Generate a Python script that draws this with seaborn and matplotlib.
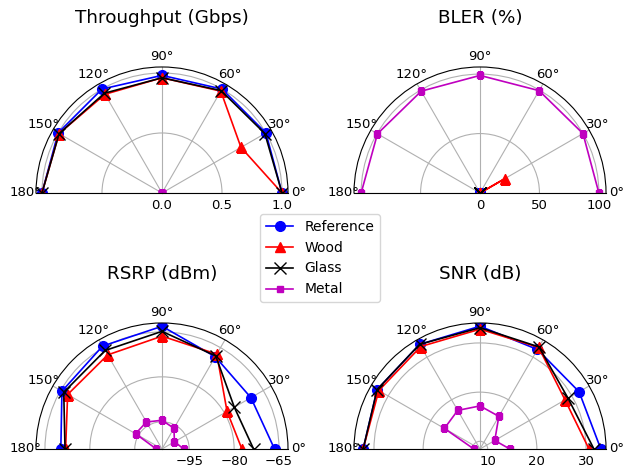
import numpy as np
import pandas as pd
import matplotlib
matplotlib.use('Agg')
import matplotlib.pyplot as plt
import seaborn as sns

# ── Data ──────────────────────────────────────────────────────────────────────
angles = [0, 30, 60, 90, 120, 150, 180]
materials = ['Reference', 'Wood', 'Glass', 'Metal']

thr_ref   = [1.00, 1.00, 1.00, 0.98, 1.00, 1.00, 1.00]
thr_wood  = [1.00, 0.76, 0.98, 0.96, 0.95, 0.99, 1.00]
thr_glass = [1.00, 0.99, 0.985, 0.96, 0.96, 0.99, 1.00]
thr_metal = [0, 0, 0, 0, 0, 0, 0]

bler_ref   = [0, 0, 0, 0, 0, 0, 0]
bler_wood  = [0, 24, 0, 0, 0, 0, 0]
bler_glass = [0, 0, 0, 0, 0, 0, 0]
bler_metal = [100, 100, 99.4, 98.9, 98.9, 99.6, 100]

rsrp_ref   = [-66.5, -69.8, -68.5, -63.1, -64.4, -65.5, -70.3]
rsrp_wood  = [-77.4, -79.0, -67.5, -66.4, -67.8, -67.7, -71.9]
rsrp_glass = [-73.5, -76.2, -68.2, -64.8, -66.1, -66.2, -71.7]
rsrp_metal = [-96.8, -99.3, -96.1, -94.5, -93.7, -93.9, -102.2]

snr_ref   = [33.0, 31.7, 31.8, 33.4, 33.0, 32.6, 32.2]
snr_wood  = [30.6, 28.4, 32.3, 32.8, 32.5, 32.2, 32.2]
snr_glass = [31.6, 29.1, 32.4, 33.1, 33.0, 32.6, 32.2]
snr_metal = [14.5, 11.9, 16.1, 17.2, 17.5, 16.8, 9.7]

titles = ['Throughput (Gbps)', 'BLER (%)', 'RSRP (dBm)', 'SNR (dB)']
series = [
    [thr_ref, thr_wood, thr_glass, thr_metal],
    [bler_ref, bler_wood, bler_glass, bler_metal],
    [rsrp_ref, rsrp_wood, rsrp_glass, rsrp_metal],
    [snr_ref, snr_wood, snr_glass, snr_metal],
]
rlims  = [(0, 1.05), (0, 106), (-104.1, -62.0), (8.44, 34.06)]
rticks = [[0.0, 0.5, 1.0], [0, 50, 100], [-95, -80, -65], [10, 20, 30]]

# style per material: colour, marker, size
styles = {
    'Reference': ('b', 'o', 7),
    'Wood':      ('r', '^', 7),
    'Glass':     ('k', 'x', 9),
    'Metal':     ('m', 's', 4),
}

# ── Plot ──────────────────────────────────────────────────────────────────────
fig = plt.figure(figsize=(6.28, 4.68), dpi=100)
# half-disc wedges sit centred in square boxes
rects = [
    [0.0573, 0.453, 0.4013, 0.5385],
    [0.5637, 0.453, 0.4013, 0.5385],
    [0.0573, -0.094, 0.4013, 0.5385],
    [0.5637, -0.094, 0.4013, 0.5385],
]
theta = np.deg2rad(angles)

for k in range(4):
    ax = fig.add_axes(rects[k], projection='polar')
    ax.set_thetamin(0); ax.set_thetamax(180)
    for name, vals in zip(materials, series[k]):
        c, m, ms = styles[name]
        sns.lineplot(x=theta, y=vals, color=c, marker=m, markersize=ms,
                     markeredgecolor=c, markeredgewidth=1.0, linewidth=1.2,
                     label=name, ax=ax, legend=False, sort=False)
    ax.set_ylim(*rlims[k])
    ax.set_yticks(rticks[k])
    ax.set_thetagrids(angles)
    ax.tick_params(axis='x', labelsize=9.5, pad=-3)
    ax.tick_params(axis='y', labelsize=9.5, pad=0.5)
    ax.set_xlabel(''); ax.set_ylabel('')
    ax.set_title(titles[k], fontsize=13.2, y=0.925, pad=0)
    if k == 0:
        handles, labels = ax.get_legend_handles_labels()

fig.legend(handles, labels, loc='center', bbox_to_anchor=(0.5096, 0.4487))
fig.savefig('out.png', dpi=100)
